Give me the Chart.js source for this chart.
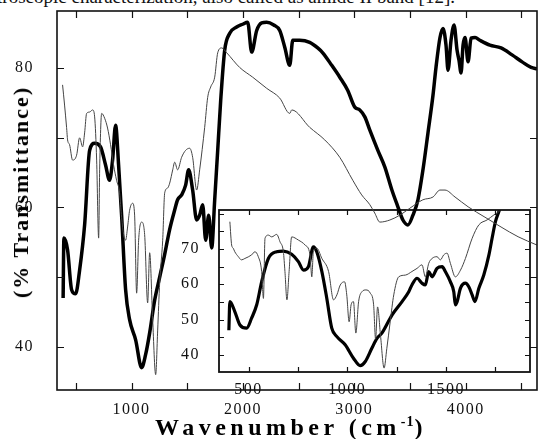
<!DOCTYPE html>
<html lang="en">
<head>
<meta charset="UTF-8">
<title>FTIR spectrum</title>
<script src="https://cdn.jsdelivr.net/npm/chart.js"></script>
<style>
  body { margin:0; background:#fff; width:538px; height:439px; overflow:hidden; position:relative; font-family:"Liberation Serif", serif; }
  canvas { position:absolute; }
  #insetChart { left:180px; top:200px; }
  #mainChart { left:0; top:0; }
  #topText { position:absolute; right:83px; top:-14px; font-size:19px; white-space:nowrap; color:#111; }
  #yTitle { position:absolute; left:21px; top:192px; transform:translate(-50%,-50%) rotate(-90deg); font-weight:bold; font-size:22px; letter-spacing:2px; white-space:nowrap; }
  #xTitle { position:absolute; left:291px; top:427px; transform:translate(-50%,-50%); font-weight:bold; font-size:24px; letter-spacing:4.5px; white-space:nowrap; }
  #xTitle sup { font-size:14px; letter-spacing:1px; }
</style>
</head>
<body>
<div id="topText">spectroscopic characterization, also called as amide II band [12].</div>
<canvas id="insetChart" width="358" height="200"></canvas>
<canvas id="mainChart" width="538" height="439"></canvas>
<div id="yTitle">(% Transmittance)</div>
<div id="xTitle">Wavenumber (cm<sup>-1</sup>)</div>

<script>
// main plot, thick curve
const mainThickX = [385, 392, 425, 461, 497, 533, 578, 623, 668, 721, 766, 802, 829, 856, 883, 910, 946, 982, 1036, 1090,
  1126, 1162, 1207, 1252, 1296, 1341, 1386, 1413, 1449, 1485, 1512, 1548, 1584, 1611, 1638, 1665, 1692, 1719, 1746, 1773,
  1800, 1836, 1881, 1943, 1997, 2042, 2078, 2123, 2168, 2213, 2276, 2330, 2375, 2420, 2447, 2509, 2599, 2671, 2716, 2797,
  2869, 2941, 3004, 3049, 3094, 3139, 3211, 3274, 3337, 3391, 3436, 3481, 3526, 3571, 3616, 3661, 3706, 3733, 3769, 3796,
  3823, 3841, 3868, 3895, 3922, 3940, 3958, 3976, 3994, 4021, 4048, 4084, 4127, 4217, 4317, 4416, 4506, 4587, 4641];
const mainThickY = [47.0, 55.6, 53.9, 48.2, 47.6, 51.0, 57.5, 68.2, 69.2, 68.7, 66.1, 63.9, 66.8, 71.8, 66.1, 58.9, 48.2, 43.9, 41.0, 37.0,
  38.9, 42.0, 46.7, 50.0, 53.2, 56.8, 59.6, 61.1, 61.8, 63.2, 65.4, 62.5, 58.2, 58.9, 60.4, 55.3, 58.9, 54.2, 61.1, 68.2,
  75.4, 82.6, 85.0, 85.9, 86.3, 86.6, 82.3, 85.4, 86.5, 86.6, 86.2, 85.4, 83.0, 80.4, 84.0, 84.0, 83.7, 82.9, 82.2, 80.4,
  78.7, 76.8, 74.4, 74.0, 73.0, 71.1, 68.2, 65.8, 62.5, 60.1, 58.2, 57.5, 58.9, 61.1, 65.4, 70.7, 76.1, 80.1, 84.4, 85.7,
  83.3, 79.7, 84.0, 86.2, 82.6, 81.1, 79.3, 83.3, 84.4, 80.9, 84.3, 84.4, 84.0, 83.3, 82.9, 81.9, 80.9, 80.1, 79.9];

// main plot, thin curve
const mainThinX = [380, 398, 416, 425, 443, 470, 506, 533, 560, 578, 596, 623, 650, 668, 686, 704, 713, 731, 758, 784,
  811, 838, 865, 892, 910, 928, 946, 964, 982, 1009, 1027, 1045, 1063, 1090, 1117, 1144, 1162, 1189, 1216, 1234,
  1252, 1279, 1297, 1324, 1342, 1369, 1387, 1413, 1449, 1485, 1521, 1548, 1584, 1611, 1656, 1683, 1710, 1746, 1773, 1809,
  1854, 1970, 2087, 2213, 2330, 2420, 2438, 2599, 2734, 2869, 2986, 3066, 3139, 3183, 3229, 3319, 3409, 3499, 3615, 3706,
  3769, 3814, 3904, 4021, 4173, 4317, 4470, 4641];
const mainThinY = [77.6, 74.7, 71.5, 69.7, 69.0, 66.8, 67.5, 70.0, 68.7, 70.7, 73.5, 73.7, 74.0, 73.0, 66.8, 55.6, 65.4, 73.5, 72.8, 71.4,
  69.0, 66.1, 63.9, 62.1, 58.6, 56.1, 55.3, 57.2, 59.6, 60.6, 58.9, 47.7, 55.3, 57.9, 56.1, 46.3, 53.5, 43.9, 36.0, 42.4,
  49.2, 55.3, 62.1, 62.8, 63.5, 65.4, 66.5, 65.4, 67.2, 68.2, 68.5, 67.2, 62.5, 65.4, 71.5, 75.8, 77.3, 78.7, 82.2, 82.9,
  82.2, 80.1, 78.7, 77.1, 75.7, 73.5, 74.0, 71.5, 69.7, 67.2, 63.9, 61.8, 60.4, 59.2, 57.9, 58.2, 58.9, 59.9, 61.1, 61.5,
  62.5, 62.5, 61.5, 60.1, 58.6, 57.2, 55.8, 54.6];

// inset, thick curve
const insetThickX = [400, 405, 430, 456, 490, 515, 541, 566, 600, 642, 676, 718, 752, 778, 803, 828, 845, 871, 896, 921,
  947, 989, 1031, 1065, 1090, 1124, 1150, 1175, 1226, 1277, 1311, 1327, 1353, 1378, 1395, 1412, 1429, 1454, 1480, 1496,
  1522, 1539, 1547, 1556, 1573, 1598, 1615, 1632, 1646, 1666, 1691, 1717, 1733, 1750, 1767, 1790];
const insetThickY = [47.0, 55.1, 52.3, 48.5, 47.6, 50.4, 54.2, 60.7, 67.3, 69.2, 69.4, 68.5, 66.4, 64.0, 65.0, 70.6, 69.2, 63.6, 56.0, 47.6,
  45.2, 42.9, 39.1, 37.0, 38.1, 41.9, 44.7, 46.2, 51.3, 55.1, 57.9, 59.8, 61.7, 60.3, 59.8, 63.6, 62.1, 64.5, 65.0, 63.6,
  60.7, 57.9, 54.2, 55.1, 58.9, 60.3, 59.3, 57.0, 55.1, 58.9, 62.6, 68.3, 73.0, 77.7, 80.5, 84.0];

// inset, thin curve
const insetThinX = [405, 414, 422, 430, 448, 464, 481, 515, 532, 549, 566, 575, 583, 600, 617, 642, 659, 676, 684, 694,
  705, 718, 752, 786, 811, 820, 828, 845, 871, 905, 930, 947, 964, 986, 997, 1009, 1019, 1031, 1043, 1057,
  1074, 1094, 1116, 1133, 1143, 1153, 1168, 1186, 1200, 1217, 1235, 1260, 1294, 1327, 1353, 1378, 1395, 1412, 1429, 1454,
  1471, 1488, 1505, 1522, 1547, 1573, 1598, 1632, 1666, 1708, 1742, 1767, 1790];
const insetThinY = [77.7, 71.1, 70.2, 69.2, 67.8, 66.9, 67.3, 68.3, 69.2, 67.8, 63.6, 56.0, 73.0, 73.9, 73.4, 74.1, 72.0, 69.2, 63.6, 55.6,
  63.6, 73.4, 72.5, 71.1, 68.3, 62.1, 69.2, 70.2, 67.3, 63.6, 55.6, 57.0, 59.8, 60.7, 57.0, 49.4, 54.2, 55.1, 46.2, 55.1,
  57.9, 58.4, 57.5, 54.2, 44.5, 53.6, 45.5, 36.3, 41.9, 49.4, 57.0, 62.1, 62.6, 63.6, 64.5, 65.5, 62.1, 65.9, 67.3, 67.8,
  66.9, 68.3, 68.8, 65.9, 62.1, 64.0, 67.3, 73.0, 76.8, 78.2, 79.6, 80.5, 82.6];

const mainXLabels = [1000, 2000, 3000, 4000];
const mainYLabels = [40, 60, 80];
const mainXTicks = [500, 1000, 1500, 2000, 2500, 3000, 3500, 4000, 4500];
const mainYTicks = [40, 50, 60, 70, 80];
const insetXLabels = [500, 1000, 1500];
const insetYLabels = [40, 50, 60, 70];
const insetXTicks = [500, 750, 1000, 1250, 1500, 1750];
const insetYTicks = [40, 45, 50, 55, 60, 65, 70, 75, 80];

function pts(xs, ys) {
  return xs.map((x, i) => ({ x: x, y: ys[i] }));
}

// frame box and inward ticks on all four sides
const frameTicks = {
  id: 'frameTicks',
  beforeDraw(chart) {
    chart.ctx.letterSpacing = '1.5px';
  },
  afterDraw(chart, args, opts) {
    const ctx = chart.ctx;
    const a = chart.chartArea;
    const sx = chart.scales.x, sy = chart.scales.y;
    ctx.save();
    ctx.strokeStyle = '#111';
    ctx.lineWidth = opts.frameWidth;
    ctx.strokeRect(a.left, a.top, a.right - a.left, a.bottom - a.top);
    ctx.lineWidth = 1.2;
    ctx.beginPath();
    opts.xTicks.forEach(v => {
      const px = Math.round(sx.getPixelForValue(v)) + 0.5;
      ctx.moveTo(px, a.bottom); ctx.lineTo(px, a.bottom - opts.len);
      ctx.moveTo(px, a.top); ctx.lineTo(px, a.top + opts.len);
    });
    opts.yTicks.forEach(v => {
      const py = Math.round(sy.getPixelForValue(v)) + 0.5;
      ctx.moveTo(a.left, py); ctx.lineTo(a.left + opts.len, py);
      ctx.moveTo(a.right, py); ctx.lineTo(a.right - opts.len, py);
    });
    ctx.stroke();
    ctx.restore();
  }
};

const tickFont = { family: 'Liberation Serif', size: 16 };

function makeScales(xmin, xmax, ymin, ymax, xl, yl, xh, yw, xpad, ypad) {
  return {
    x: {
      type: 'linear', min: xmin, max: xmax,
      grid: { display: false }, border: { display: false },
      ticks: { font: tickFont, color: '#111', padding: xpad, maxRotation: 0, callback: v => String(v) },
      afterBuildTicks: s => { s.ticks = xl.map(v => ({ value: v })); },
      afterFit: s => { s.height = xh; s.paddingLeft = 0; s.paddingRight = 0; }
    },
    y: {
      type: 'linear', min: ymin, max: ymax,
      grid: { display: false }, border: { display: false },
      ticks: { font: tickFont, color: '#111', padding: ypad, callback: v => String(v) },
      afterBuildTicks: s => { s.ticks = yl.map(v => ({ value: v })); },
      afterFit: s => { s.width = yw; s.paddingTop = 0; s.paddingBottom = 0; }
    }
  };
}

const lineOpts = { pointRadius: 0, cubicInterpolationMode: 'monotone', fill: false };

new Chart(document.getElementById('insetChart'), {
  type: 'line',
  data: {
    datasets: [
      Object.assign({ data: pts(insetThinX, insetThinY), borderColor: '#444', borderWidth: 1 }, lineOpts),
      Object.assign({ data: pts(insetThickX, insetThickY), borderColor: '#000', borderWidth: 3.2 }, lineOpts)
    ]
  },
  options: {
    responsive: false, animation: false,
    layout: { padding: { top: 10, right: 8, left: 0, bottom: 0 } },
    plugins: {
      legend: { display: false }, tooltip: { enabled: false },
      frameTicks: { frameWidth: 1.8, len: 5, xTicks: insetXTicks, yTicks: insetYTicks }
    },
    scales: makeScales(350, 1925, 35.2, 81, insetXLabels, insetYLabels, 28, 39, 0, 11)
  },
  plugins: [frameTicks]
});

new Chart(document.getElementById('mainChart'), {
  type: 'line',
  data: {
    datasets: [
      Object.assign({ data: pts(mainThinX, mainThinY), borderColor: '#444', borderWidth: 1 }, lineOpts),
      Object.assign({ data: pts(mainThickX, mainThickY), borderColor: '#000', borderWidth: 3.5 }, lineOpts)
    ]
  },
  options: {
    responsive: false, animation: false,
    layout: { padding: { top: 11, right: 1, left: 0, bottom: 0 } },
    plugins: {
      legend: { display: false }, tooltip: { enabled: false },
      frameTicks: { frameWidth: 1.6, len: 7, xTicks: mainXTicks, yTicks: mainYTicks }
    },
    scales: makeScales(330, 4640, 33.8, 88.2, mainXLabels, mainYLabels, 49, 57, 2, 15)
  },
  plugins: [frameTicks]
});
</script>
</body>
</html>
